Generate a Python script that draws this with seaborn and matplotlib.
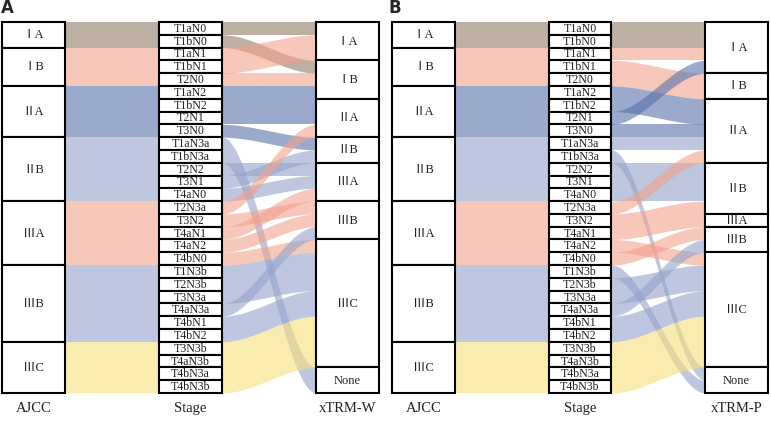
import numpy as np
import matplotlib
matplotlib.use("Agg")
import matplotlib.pyplot as plt
from matplotlib.patches import Rectangle
import seaborn as sns

# ---------------- data ----------------
stages = ["T1aN0", "T1bN0", "T1aN1", "T1bN1", "T2N0",
          "T1aN2", "T1bN2", "T2N1", "T3N0",
          "T1aN3a", "T1bN3a", "T2N2", "T3N1", "T4aN0",
          "T2N3a", "T3N2", "T4aN1", "T4aN2", "T4bN0",
          "T1N3b", "T2N3b", "T3N3a", "T4aN3a", "T4bN1", "T4bN2",
          "T3N3b", "T4aN3b", "T4bN3a", "T4bN3b"]
ajcc_levels = ["ⅠA", "ⅠB", "ⅡA", "ⅡB", "ⅢA", "ⅢB", "ⅢC"]
ajcc_of_stage = ["ⅠA", "ⅠA", "ⅠB", "ⅠB", "ⅠB",
                 "ⅡA", "ⅡA", "ⅡA", "ⅡA",
                 "ⅡB", "ⅡB", "ⅡB", "ⅡB", "ⅡB",
                 "ⅢA", "ⅢA", "ⅢA", "ⅢA", "ⅢA",
                 "ⅢB", "ⅢB", "ⅢB", "ⅢB", "ⅢB", "ⅢB",
                 "ⅢC", "ⅢC", "ⅢC", "ⅢC"]
right_levels = ["ⅠA", "ⅠB", "ⅡA", "ⅡB", "ⅢA", "ⅢB", "ⅢC", "None"]
xtrm_w = ["ⅠA", "ⅠB", "ⅠA", "ⅠA", "ⅠB",
          "ⅠB", "ⅡA", "ⅡA", "ⅡB",
          "None", "None", "ⅢA", "ⅡB", "ⅢA",
          "ⅡA", "ⅢB", "ⅢA", "ⅢB", "ⅢC",
          "ⅢC", "ⅢC", "ⅢC", "ⅢB", "ⅢC", "ⅢC",
          "ⅢC", "ⅢC", "ⅢC", "ⅢC"]
xtrm_p = ["ⅠA", "ⅠA", "ⅠA", "ⅠB", "ⅠB",
          "ⅡA", "ⅡA", "ⅠA", "ⅡA",
          "ⅡA", "None", "ⅡB", "ⅡB", "ⅡB",
          "ⅡA", "ⅡB", "ⅢA", "ⅢC", "ⅢB",
          "None", "ⅢC", "ⅢC", "ⅢB", "ⅢC", "ⅢC",
          "ⅢC", "ⅢC", "ⅢC", "ⅢC"]
group_colors = {"ⅠA": "#947B66", "ⅠB": "#F2A28C", "ⅡA": "#5871AD",
                "ⅡB": "#94A3CB", "ⅢA": "#F2A28C", "ⅢB": "#94A3CB",
                "ⅢC": "#F8DF7B"}

# ---------------- style ----------------
sns.set_theme(style="white")
plt.rcParams['font.family'] = ['Liberation Serif', 'Noto Sans CJK JP']

W, H = 771, 421
fig = plt.figure(figsize=(W / 100, H / 100), dpi=100)
hw = 0.2
ALPHA = 0.6
TOP, BOT = 22, 393


def draw_panel(x0, x1, targets, right_name, letter, lx):
    ax = fig.add_axes([x0 / W, (H - BOT) / H, (x1 - x0) / W, (BOT - TOP) / H])
    n = len(stages)
    ax.set_xlim(-hw, 2 + hw)
    ax.set_ylim(n, 0)
    ax.axis("off")

    # left flows (AJCC -> Stage), one block per AJCC group
    pos = 0
    ajcc_start = {}
    for g in ajcc_levels:
        cnt = ajcc_of_stage.count(g)
        ajcc_start[g] = (pos, cnt)
        ax.fill_between([hw, 1 - hw], pos, pos + cnt, color=group_colors[g],
                        alpha=ALPHA, lw=0, antialiased=False)
        pos += cnt

    # right node positions
    rstart = {}
    pos = 0
    for g in right_levels:
        cnt = targets.count(g)
        rstart[g] = (pos, cnt)
        pos += cnt

    # slot of each stage inside its target node (stacked in stage order)
    fill = {g: 0 for g in right_levels}
    tpos = []
    for t in targets:
        tpos.append(rstart[t][0] + fill[t])
        fill[t] += 1

    # merge neighbouring flows that move together with the same colour
    runs = []
    for i in range(n):
        col = group_colors[ajcc_of_stage[i]]
        off = tpos[i] - i
        if runs and runs[-1][2] == col and runs[-1][3] == off and runs[-1][1] == i:
            runs[-1][1] = i + 1
        else:
            runs.append([i, i + 1, col, off])

    xs = np.linspace(1 + hw, 2 - hw, 300)
    s = (xs - xs[0]) / (xs[-1] - xs[0])
    f = 3 * s ** 2 - 2 * s ** 3
    for a, b, col, off in runs:
        top = a + off * f
        ax.fill_between(xs, top, top + (b - a), color=col, alpha=ALPHA, lw=0)

    # boxes
    def box(xc, y0, h, label, fs):
        ax.add_patch(Rectangle((xc - hw, y0), 2 * hw, h, facecolor="white",
                               edgecolor="black", lw=1.5, zorder=3, clip_on=False))
        ax.text(xc, y0 + h / 2 + 0.04, label, ha="center", va="center", fontsize=fs,
                zorder=4, color="#222222")

    for g in ajcc_levels:
        p, c = ajcc_start[g]
        box(0, p, c, g, 9)
    for i, st in enumerate(stages):
        box(1, i, 1, st, 8.6)
    for g in right_levels:
        p, c = rstart[g]
        if c > 0:
            box(2, p, c, g, 9)

    for xc, lab in zip([0, 1, 2], ["AJCC", "Stage", right_name]):
        ax.text(xc, n + 1.2, lab, ha="center", va="center", fontsize=10.5,
                color="#222222", clip_on=False)

    fig.text(lx / W, 1 - 8 / H, letter, fontsize=12, fontweight="bold",
             family="DejaVu Sans", ha="left", va="center")
    return ax


draw_panel(2, 379, xtrm_w, "xTRM-W", "A", 1)
draw_panel(392, 768, xtrm_p, "xTRM-P", "B", 389)

fig.savefig("out.png", dpi=100, facecolor="white")
